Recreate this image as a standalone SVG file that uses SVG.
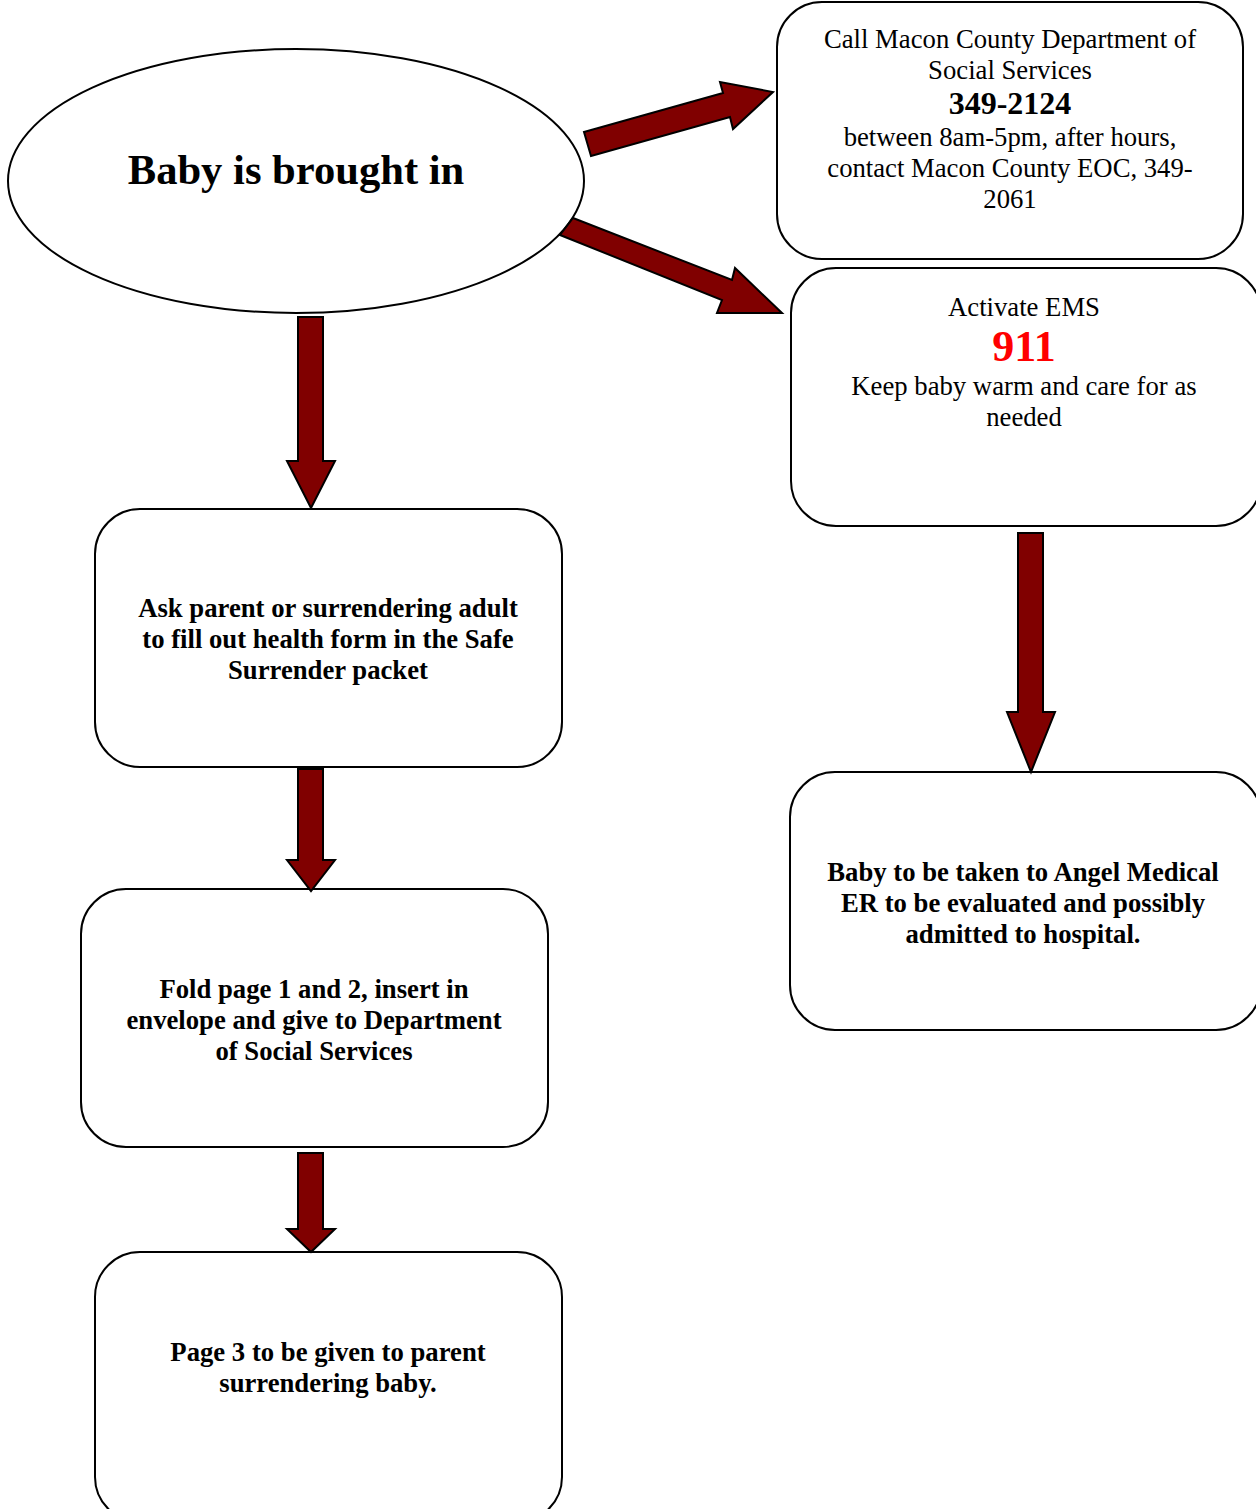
<svg xmlns="http://www.w3.org/2000/svg" width="1256" height="1509" viewBox="0 0 1256 1509">
<style>
.box{fill:#fff;stroke:#000;stroke-width:2}
.arr{fill:#800000;stroke:#000;stroke-width:2;stroke-linejoin:miter}
text{font-family:"Liberation Serif","Times New Roman",serif;text-anchor:middle;fill:#000}
.r{font-size:26.7px}
.b{font-size:26.7px;font-weight:bold}
</style>
<rect width="1256" height="1509" fill="#fff"/>
<g id="start">
<ellipse class="box" cx="296" cy="181" rx="288" ry="132"/>
<text x="296" y="184" style="font-size:42.6px;font-weight:bold">Baby is brought in</text>
</g>
<g id="dss">
<rect class="box" x="777" y="2" width="466" height="257" rx="45"/>
<text class="r" x="1010" y="48">Call Macon County Department of</text>
<text class="r" x="1010" y="79">Social Services</text>
<text x="1010" y="114" style="font-size:32px;font-weight:bold">349-2124</text>
<text class="r" x="1010" y="146">between 8am-5pm, after hours,</text>
<text class="r" x="1010" y="177">contact Macon County EOC, 349-</text>
<text class="r" x="1010" y="208">2061</text>
</g>
<g id="ems">
<rect class="box" x="791" y="268" width="470" height="258" rx="45"/>
<text class="r" x="1024" y="316">Activate EMS</text>
<text x="1024" y="361" style="font-size:44px;font-weight:bold;fill:#ff0000">911</text>
<text class="r" x="1024" y="395">Keep baby warm and care for as</text>
<text class="r" x="1024" y="426">needed</text>
</g>
<g id="hospital">
<rect class="box" x="790" y="772" width="471" height="258" rx="45"/>
<text class="b" x="1023" y="881">Baby to be taken to Angel Medical</text>
<text class="b" x="1023" y="912">ER to be evaluated and possibly</text>
<text class="b" x="1023" y="943">admitted to hospital.</text>
</g>
<g id="healthform">
<rect class="box" x="95" y="509" width="467" height="258" rx="45"/>
<text class="b" x="328" y="617">Ask parent or surrendering adult</text>
<text class="b" x="328" y="648">to fill out health form in the Safe</text>
<text class="b" x="328" y="679">Surrender packet</text>
</g>
<g id="envelope">
<rect class="box" x="81" y="889" width="467" height="258" rx="45"/>
<text class="b" x="314" y="998">Fold page 1 and 2, insert in</text>
<text class="b" x="314" y="1029">envelope and give to Department</text>
<text class="b" x="314" y="1060">of Social Services</text>
</g>
<g id="page3">
<rect class="box" x="95" y="1252" width="467" height="270" rx="45"/>
<text class="b" x="328" y="1361">Page 3 to be given to parent</text>
<text class="b" x="328" y="1392">surrendering baby.</text>
</g>
<g id="connectors">
<polygon class="arr" points="584,132 723,93 720,82 773,92 733,129 730,117 591,156"/>
<polygon class="arr" points="573,218 732,280 735,268 782,313 717,313 722,300 560,235"/>
<polygon class="arr" points="298,317 323,317 323,461 335,461 311,508 287,461 298,461"/>
<polygon class="arr" points="1018,533 1043,533 1043,712 1055,712 1031,772 1007,712 1018,712"/>
<polygon class="arr" points="298,769 323,769 323,860 335,860 311,891 287,860 298,860"/>
<polygon class="arr" points="298,1153 323,1153 323,1229 335,1229 311,1252 287,1229 298,1229"/>
</g>
</svg>
